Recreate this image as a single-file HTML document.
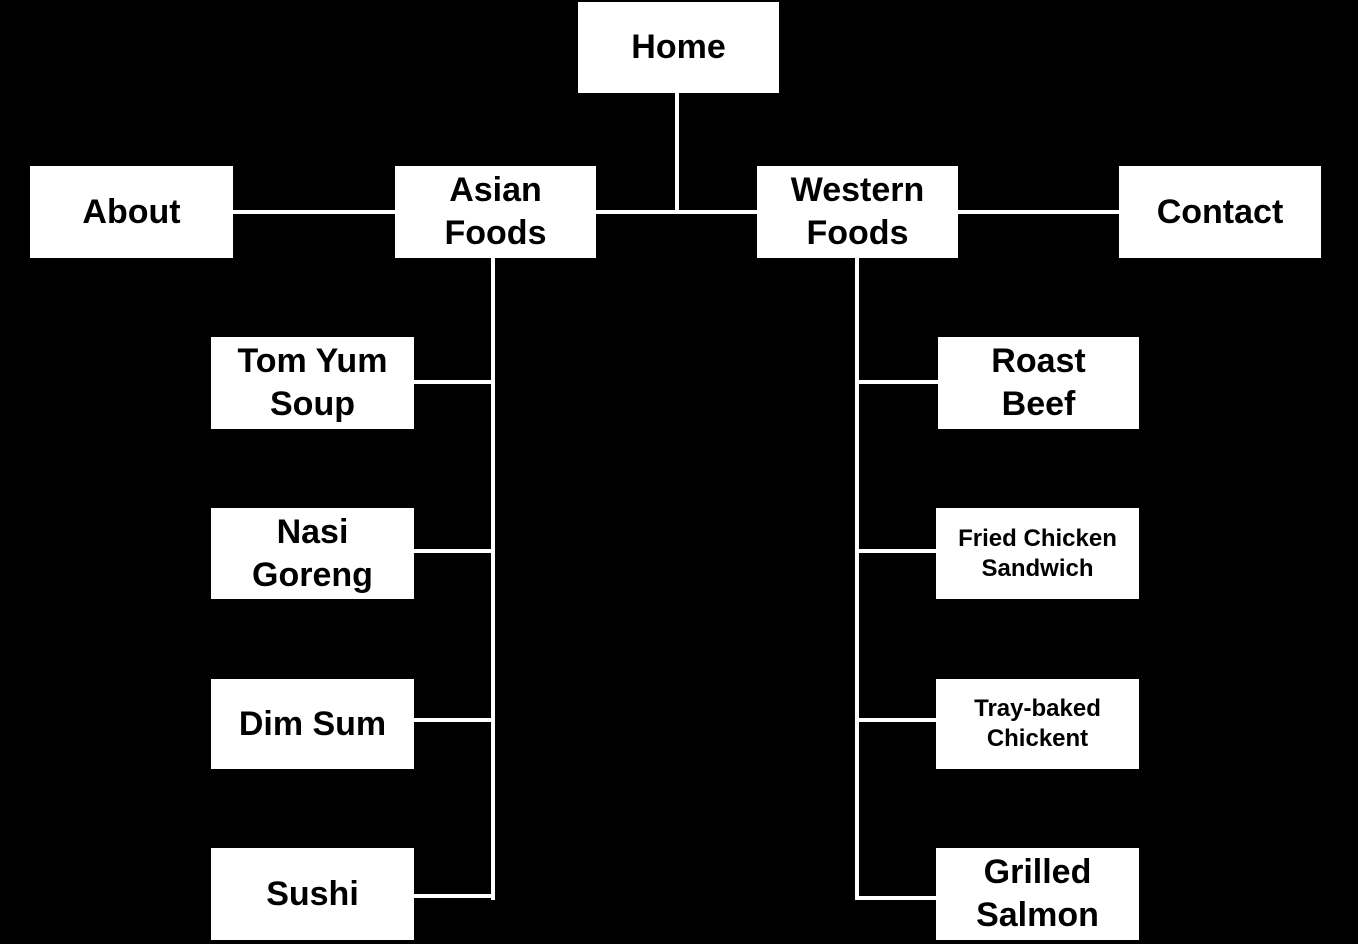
<!DOCTYPE html>
<html><head><style>
body{margin:0;width:1358px;height:944px;background:#000;position:relative;overflow:hidden;font-family:"Liberation Sans","Noto Sans CJK KR",sans-serif;}
.b{position:absolute;background:#fff;color:#000;font-weight:bold;display:flex;align-items:center;justify-content:center;text-align:center;font-size:34px;line-height:43px;}
.s{font-size:24px;line-height:30px;}
.l{position:absolute;background:#fff;}
</style></head><body>
<div class="l" style="left:675px;top:92px;width:4px;height:122px"></div>
<div class="l" style="left:595px;top:210px;width:164px;height:4px"></div>
<div class="l" style="left:232px;top:210px;width:165px;height:4px"></div>
<div class="l" style="left:957px;top:210px;width:164px;height:4px"></div>
<div class="l" style="left:491px;top:257px;width:4px;height:643px"></div>
<div class="l" style="left:855px;top:257px;width:4px;height:643px"></div>
<div class="l" style="left:413px;top:380px;width:80px;height:4px"></div>
<div class="l" style="left:413px;top:549px;width:80px;height:4px"></div>
<div class="l" style="left:413px;top:718px;width:80px;height:4px"></div>
<div class="l" style="left:413px;top:894px;width:80px;height:4px"></div>
<div class="l" style="left:857px;top:380px;width:82px;height:4px"></div>
<div class="l" style="left:857px;top:549px;width:82px;height:4px"></div>
<div class="l" style="left:857px;top:718px;width:82px;height:4px"></div>
<div class="l" style="left:857px;top:896px;width:82px;height:4px"></div>

<div class="b" style="left:578px;top:2px;width:201px;height:91px">Home</div>
<div class="b" style="left:30px;top:166px;width:203px;height:92px">About</div>
<div class="b" style="left:395px;top:166px;width:201px;height:92px">Asian<br>Foods</div>
<div class="b" style="left:757px;top:166px;width:201px;height:92px">Western<br>Foods</div>
<div class="b" style="left:1119px;top:166px;width:202px;height:92px">Contact</div>

<div class="b" style="left:211px;top:337px;width:203px;height:92px">Tom Yum<br>Soup</div>
<div class="b" style="left:211px;top:508px;width:203px;height:91px">Nasi<br>Goreng</div>
<div class="b" style="left:211px;top:679px;width:203px;height:90px">Dim Sum</div>
<div class="b" style="left:211px;top:848px;width:203px;height:92px">Sushi</div>

<div class="b" style="left:938px;top:337px;width:201px;height:92px">Roast<br>Beef</div>
<div class="b s" style="left:936px;top:508px;width:203px;height:91px">Fried Chicken<br>Sandwich</div>
<div class="b s" style="left:936px;top:679px;width:203px;height:90px">Tray-baked<br>Chickent</div>
<div class="b" style="left:936px;top:848px;width:203px;height:92px">Grilled<br>Salmon</div>
</body></html>
